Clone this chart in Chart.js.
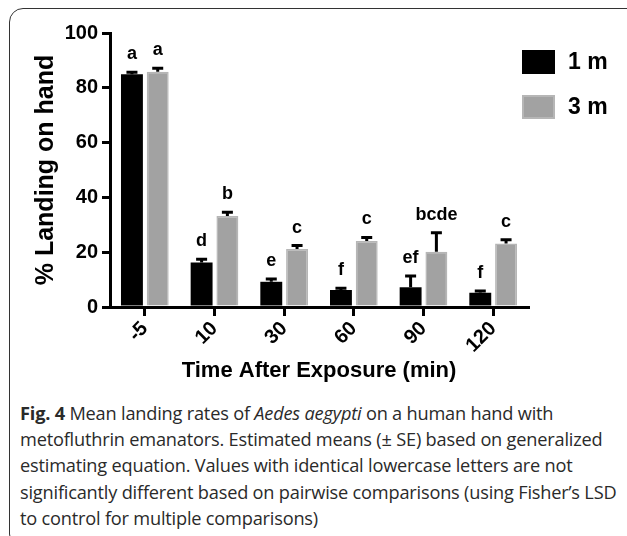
<!DOCTYPE html>
<html>
<head>
<meta charset="utf-8">
<script src="https://cdn.jsdelivr.net/npm/chart.js@4.4.0/dist/chart.umd.min.js"></script>
<style>
  html, body { margin: 0; padding: 0; background: #fff; width: 627px; height: 536px; overflow: hidden; }
  #frame { position: absolute; left: 9px; top: 8px; width: 640px; height: 540px; border: 1.5px solid #333; border-radius: 14px; box-sizing: border-box; }
  #wrap { position: absolute; left: 0; top: 0; width: 627px; height: 395px; }
  #caption { position: absolute; left: 20px; top: 400px; font-family: "Open Sans", sans-serif; font-size: 18.2px; line-height: 26.2px; color: #2a2a2a; white-space: nowrap; letter-spacing: -0.2px; }
</style>
</head>
<body>
<div id="frame"></div>
<div id="wrap"><canvas id="c" width="627" height="395"></canvas></div>
<div id="caption"><b>Fig. 4</b> Mean landing rates of <i>Aedes aegypti</i> on a human hand with<br>metofluthrin emanators. Estimated means (± SE) based on generalized<br>estimating equation. Values with identical lowercase letters are not<br>significantly different based on pairwise comparisons (using Fisher’s LSD<br>to control for multiple comparisons)</div>
<script>
const categories = ['-5', '10', '30', '60', '90', '120'];
const seriesNames = ['1 m', '3 m'];
const oneM = [84.9, 16.2, 9.2, 6.2, 7.2, 5.2];
const oneMErr = [0.8, 1.2, 1.0, 0.6, 4.1, 0.6];
const threeM = [85.9, 33.2, 21.2, 24.1, 20.2, 23.2];
const threeMErr = [1.2, 1.4, 1.2, 1.3, 6.9, 1.3];
const oneMLetters = ['a', 'd', 'e', 'f', 'ef', 'f'];
const threeMLetters = ['a', 'b', 'c', 'c', 'bcde', 'c'];
const yTicks = [0, 20, 40, 60, 80, 100];

const FONT = '"Liberation Sans", Arial, sans-serif';

const errLetterPlugin = {
  id: 'errLetter',
  afterDatasetsDraw(chart) {
    const ctx = chart.ctx;
    const y = chart.scales.y;
    ctx.save();
    chart.data.datasets.forEach((ds, di) => {
      const meta = chart.getDatasetMeta(di);
      meta.data.forEach((bar, i) => {
        const top = y.getPixelForValue(ds.data[i] + ds.errors[i]);
        const base = y.getPixelForValue(ds.data[i]);
        ctx.strokeStyle = '#000';
        ctx.lineWidth = 3;
        ctx.beginPath();
        ctx.moveTo(bar.x, base);
        ctx.lineTo(bar.x, top);
        ctx.moveTo(bar.x - 5.5, top);
        ctx.lineTo(bar.x + 5.5, top);
        ctx.stroke();
        ctx.fillStyle = '#000';
        ctx.font = 'bold 18px ' + FONT;
        ctx.textAlign = 'center';
        ctx.textBaseline = 'middle';
        const ly = Math.max(top - 18, y.getPixelForValue(100) + 11);
        ctx.fillText(ds.letters[i], bar.x, ly);
      });
    });
    const lx = chart.chartArea.right - 6;
    chart.data.datasets.forEach((ds, di) => {
      const ly = 50 + di * 45;
      ctx.fillStyle = ds.borderColor;
      ctx.fillRect(lx, ly, 33, 24);
      ctx.fillStyle = ds.backgroundColor;
      ctx.fillRect(lx + 2, ly + 2, 29, 20);
      ctx.fillStyle = '#000';
      ctx.font = 'bold 23px ' + FONT;
      ctx.textAlign = 'left';
      ctx.textBaseline = 'middle';
      ctx.fillText(ds.label, lx + 46, ly + 13);
    });
    ctx.restore();
  }
};

new Chart(document.getElementById('c'), {
  type: 'bar',
  data: {
    labels: categories,
    datasets: [
      { label: seriesNames[0], data: oneM, errors: oneMErr, letters: oneMLetters, backgroundColor: '#000000', borderColor: '#000000', borderWidth: 0 },
      { label: seriesNames[1], data: threeM, errors: threeMErr, letters: threeMLetters, backgroundColor: '#a2a2a2', borderColor: '#b6b6b6', borderWidth: 1.5 }
    ]
  },
  options: {
    responsive: false,
    animation: false,
    devicePixelRatio: 1,
    categoryPercentage: 0.74,
    barPercentage: 0.85,
    layout: { padding: { top: 33, right: 99, bottom: 0, left: 0 } },
    plugins: { legend: { display: false }, tooltip: { enabled: false } },
    scales: {
      x: {
        offset: true,
        grid: { display: true, offset: false, drawOnChartArea: false, drawTicks: true, tickLength: 9, color: '#000', lineWidth: 3 },
        border: { display: true, color: '#000', width: 3 },
        ticks: { color: '#000', font: { family: FONT, size: 20, weight: 'bold' }, minRotation: 45, maxRotation: 45, padding: 1 },
        title: { display: true, text: 'Time After Exposure (min)', color: '#000', font: { family: FONT, size: 22, weight: 'bold' }, padding: { top: 0, bottom: 11 } },
        afterFit(scale) { scale.height = 88; }
      },
      y: {
        min: 0, max: 100,
        afterBuildTicks(scale) { scale.ticks = yTicks.map(v => ({ value: v })); },
        grid: { display: true, drawOnChartArea: false, drawTicks: true, tickLength: 8, color: '#000', lineWidth: 3 },
        border: { display: true, color: '#000', width: 3 },
        ticks: { color: '#000', font: { family: FONT, size: 20, weight: 'bold' }, padding: 4 },
        title: { display: true, text: '% Landing on hand', color: '#000', font: { family: FONT, size: 25, weight: 'bold' }, padding: { top: 31, bottom: 0 } },
        afterFit(scale) { scale.width = 110; }
      }
    }
  },
  plugins: [errLetterPlugin]
});
</script>
</body>
</html>
